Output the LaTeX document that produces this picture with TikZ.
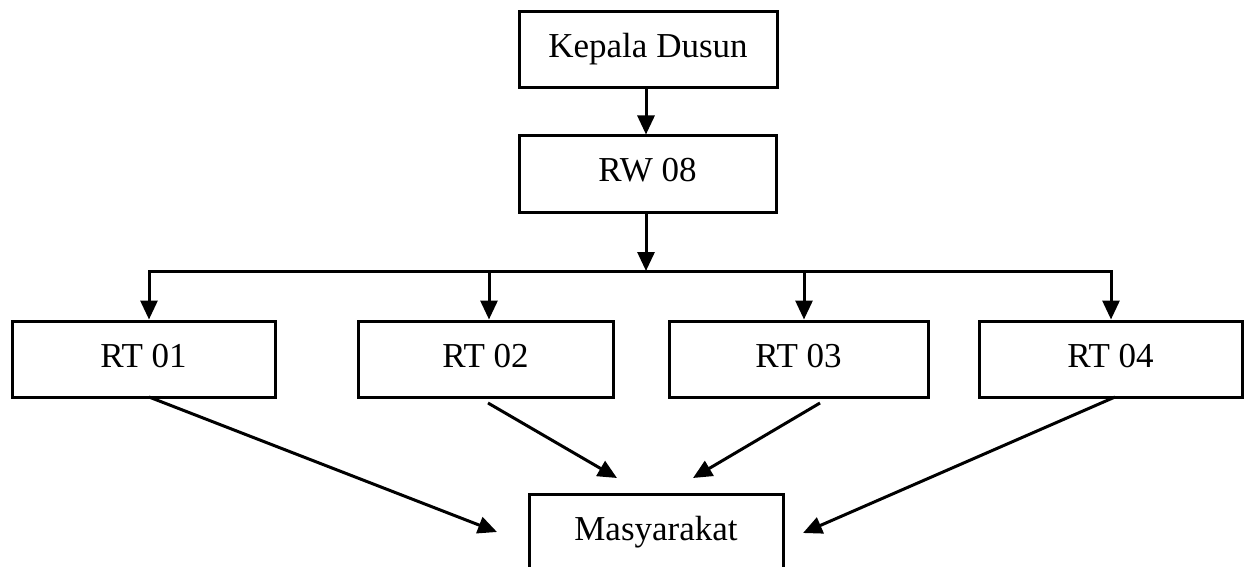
\documentclass[tikz,border=0pt]{standalone}
\usepackage{fontspec}
\setmainfont{Liberation Serif}
\usetikzlibrary{arrows.meta}
\begin{document}
\begin{tikzpicture}[x=1pt,y=-1pt,
  box/.style={draw, line width=3pt, inner sep=0pt, minimum height=76pt,
    font=\fontsize{35}{40}\selectfont, text height=24pt, text depth=8pt},
  arr/.style={line width=3pt, -{Triangle[length=19pt,width=17pt]}},
  ln/.style={line width=3pt}]
\useasboundingbox (0,0) rectangle (1245,567);
\node[box, minimum width=258pt] (kd) at (648,49.5) {Kepala Dusun};
\node[box, minimum width=257pt] (rw) at (647.5,174) {RW 08};
\node[box, minimum width=263pt] (rt1) at (143.5,359) {RT 01};
\node[box, minimum width=255pt] (rt2) at (485.5,359) {RT 02};
\node[box, minimum width=259pt] (rt3) at (798.5,359) {RT 03};
\node[box, minimum width=263pt] (rt4) at (1110.5,359) {RT 04};
\node[box, minimum width=254pt, minimum height=84pt, text depth=16pt] (mas) at (656,536) {Masyarakat};
\coordinate (b0) at (646,271);
\coordinate (b1) at (149,271);
\coordinate (b2) at (489,271);
\coordinate (b3) at (804,271);
\coordinate (b4) at (1111,271);
\coordinate (e1) at (497,532);
\coordinate (e2) at (617,478);
\coordinate (e3) at (693,478);
\coordinate (e4) at (803,533);
\coordinate (s1) at (149,397);
\coordinate (s2) at (488,403);
\coordinate (s3) at (820,403);
\coordinate (s4) at (1115,397);
\draw[arr] (kd.south -| b0) -- (rw.north -| b0);
\draw[arr] (rw.south -| b0) -- (b0);
\draw[ln, line cap=rect] (b1) -- (b4);
\draw[arr] (b1) -- (rt1.north -| b1);
\draw[arr] (b2) -- (rt2.north -| b2);
\draw[arr] (b3) -- (rt3.north -| b3);
\draw[arr] (b4) -- (rt4.north -| b4);
\draw[arr] (s1) -- (e1);
\draw[arr] (s2) -- (e2);
\draw[arr] (s3) -- (e3);
\draw[arr] (s4) -- (e4);
\end{tikzpicture}
\end{document}
